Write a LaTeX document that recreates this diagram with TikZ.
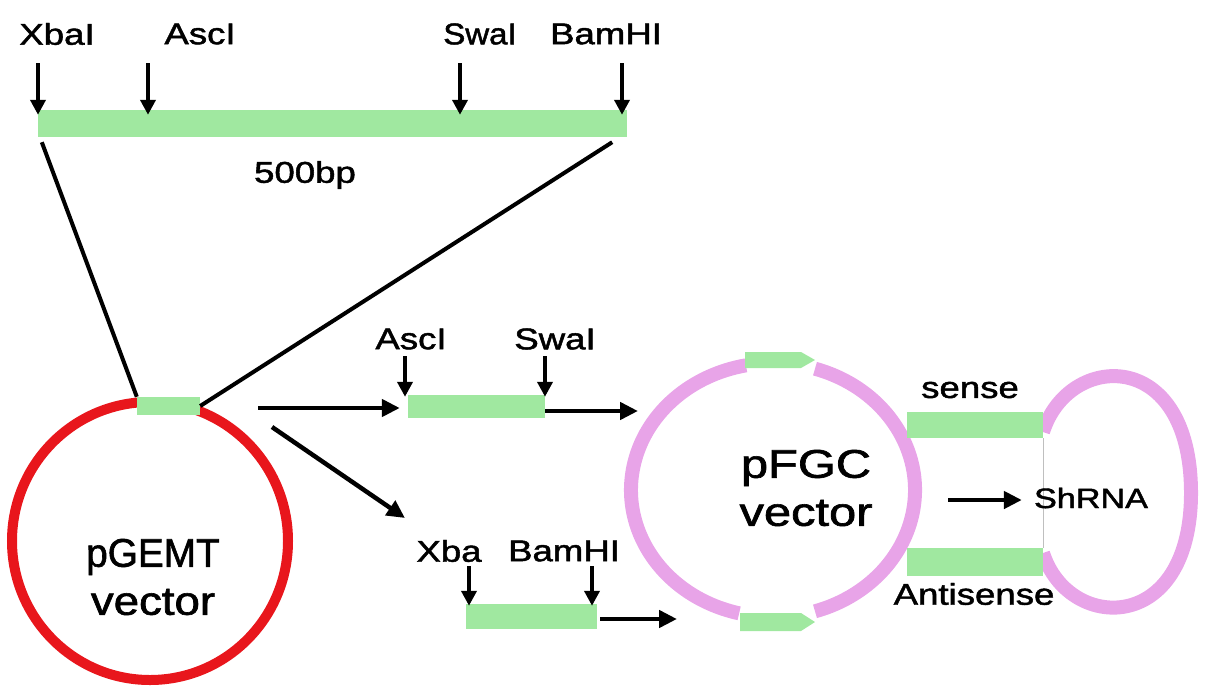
\documentclass[tikz,border=0pt]{standalone}
\usepackage{fontspec}
\usepackage{graphicx}
\setmainfont{Liberation Sans}[FakeBold=1.5]
\usetikzlibrary{arrows.meta,shapes.geometric}
\definecolor{bargreen}{RGB}{160,232,160}
\definecolor{vred}{RGB}{232,22,28}
\definecolor{vpink}{RGB}{232,164,232}
\newcommand\wide[1]{\scalebox{1.22}[1]{#1}}
\begin{document}
\begin{tikzpicture}[x=1pt,y=-1pt,
  bar/.style={fill=bargreen,draw=none,inner sep=0pt},
  lbl/.style={font=\fontsize{30}{34}\selectfont,inner sep=0pt},
  big/.style={font=\fontsize{40}{48}\selectfont,inner sep=0pt,align=center},
  cut/.style={line width=4pt,-{Triangle[length=15pt,width=15pt]}},
  flow/.style={line width=4.5pt,-{Triangle[length=18pt,width=17pt]}},
  pinkline/.style={draw=vpink,line width=14pt},
  garrow/.style={fill=bargreen,draw=none}]
\useasboundingbox (0,0) rectangle (1206,688);

% ---------- top fragment ----------
\node[bar,minimum width=589pt,minimum height=27pt] (topbar) at (332.5,123.5) {};
\node[lbl] (xbal) at (57,34) {\wide{XbaI}};
\node[lbl] (ascl) at (200,34) {\wide{AscI}};
\node[lbl] (swal) at (480,34) {\scalebox{1.1}[1]{SwaI}};
\node[lbl] (bamhi) at (606,34) {\wide{BamHI}};
\coordinate (c1) at (38,63);
\coordinate (c2) at (148,63);
\coordinate (c3) at (460,63);
\coordinate (c4) at (622,63);
\foreach \c in {c1,c2,c3,c4}
  \draw[cut] (\c) -- ([yshift=-5pt]\c |- topbar.north);
\node[lbl] (bp) at (305,175) {\wide{500bp}};

% ---------- pGEMT vector ----------
\node[ellipse,draw=vred,line width=10pt,minimum width=276pt,minimum height=278pt] (pgemt) at (150,541) {};
\node[big] (pgemtlbl) at (153,577) {\scalebox{0.97}[1]{pGEMT}\\\scalebox{1.14}[1]{vector}};
\node[bar,minimum width=63pt,minimum height=18pt] (gbar) at (168.5,406) {};
\draw[line width=4pt] ([shift={(4,5)}]topbar.south west) -- (gbar.north west);
\draw[line width=4pt] ([shift={(-15,5)}]topbar.south east) -- (gbar.east);

% ---------- AscI / SwaI fragment ----------
\node[bar,minimum width=137pt,minimum height=23pt] (mbar) at (476.5,406.5) {};
\node[lbl] (ascl2) at (411,339) {\wide{AscI}};
\node[lbl] (swal2) at (555,339) {\wide{SwaI}};
\coordinate (m1) at (405,356);
\coordinate (m2) at (545,356);
\foreach \c in {m1,m2}
  \draw[cut] (\c) -- ([yshift=-2pt]\c |- mbar.north);
\coordinate (p1) at (258,408);
\draw[flow] (p1) -- ([xshift=-8pt]p1 -| mbar.west);
\coordinate (m3) at (638,411);
\draw[flow] (mbar.east |- m3) -- (m3);

% ---------- XbaI / BamHI fragment ----------
\node[bar,minimum width=131pt,minimum height=25pt] (lbar) at (531.5,616.5) {};
\node[lbl] (xba) at (449,551) {\wide{Xba}};
\node[lbl] (bamhi2) at (564,551) {\wide{BamHI}};
\coordinate (l1) at (469,566);
\coordinate (l2) at (592,566);
\foreach \c in {l1,l2}
  \draw[cut] (\c) -- ([yshift=-2pt]\c |- lbar.north);
\coordinate (p2) at (272,427);
\coordinate (p2e) at (405,518);
\draw[flow] (p2) -- (p2e);
\coordinate (l3) at (677,619);
\draw[flow] ([xshift=3pt]lbar.east |- l3) -- (l3);

% ---------- pFGC vector ----------
\coordinate (fgc) at (773,490);
\draw[pinkline] ([shift={(-72.8:142 and 127)}]fgc) arc[start angle=-72.8,end angle=72.8,x radius=142,y radius=127];
\draw[pinkline] ([shift={(103.8:142 and 127)}]fgc) arc[start angle=103.8,end angle=259,x radius=142,y radius=127];
\fill[garrow] (745,352) -- (801,352) -- (815,360) -- (801,368) -- (745,368) -- cycle;
\fill[garrow] (740,613) -- (801,613) -- (815,622) -- (801,631) -- (740,631) -- cycle;
\node[big] (fgclbl) at (806,488) {\wide{pFGC}\\\wide{vector}};

% ---------- hairpin ----------
\draw[pinkline] (1043,432) .. controls (1068,352) and (1191,346) .. (1191,493) .. controls (1191,636) and (1068,632) .. (1043,553);
\node[bar,minimum width=136pt,minimum height=26pt] (sense) at (975,425) {};
\node[bar,minimum width=136pt,minimum height=28pt] (anti) at (975,562) {};
\draw[black!25,line width=0.6pt] (sense.south east) -- (anti.north east);
\node[lbl] (senselbl) at (970,390) {\wide{sense}};
\node[lbl] (antilbl) at (974,594) {\wide{Antisense}};
\coordinate (s1) at (948,500);
\node[lbl,font=\fontsize{28}{32}\selectfont] (shrna) at (1091,498) {\wide{ShRNA}};
\draw[flow] (s1) -- ([xshift=-12pt]shrna.west |- s1);
\end{tikzpicture}
\end{document}
